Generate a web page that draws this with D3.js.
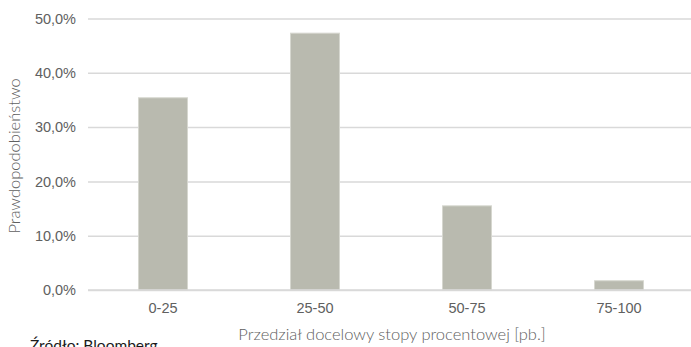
<!DOCTYPE html>
<html><head><meta charset="utf-8">
<script src="https://cdn.jsdelivr.net/npm/d3@7"></script>
<style>
html,body{margin:0;padding:0;background:#fff;}
svg{display:block;font-family:"Lato","Open Sans",sans-serif;}
</style></head>
<body>
<script>
const categories = ["0-25", "25-50", "50-75", "75-100"];
const probabilities = [0.354, 0.473, 0.155, 0.017];
const yTicks = [0, 0.1, 0.2, 0.3, 0.4, 0.5];
const yTitle = "Prawdopodobieństwo";
const xTitle = "Przedział docelowy stopy procentowej [pb.]";
const source = "Źródło: Bloomberg";

const W = 691, H = 347;
const svg = d3.select("body").append("svg").attr("width", W).attr("height", H);

const x = d3.scaleBand().domain(categories).range([87, 695]).paddingInner(0.678).paddingOuter(0.339);
const y = d3.scaleLinear().domain([0, 0.5]).range([290, 18.5]);
const fmt = d => d3.format(".1f")(d * 100).replace(".", ",") + "%";

// gridlines
const yAxis = d3.axisLeft(y).tickValues(yTicks).tickFormat(fmt).tickSize(-(691 - 88)).tickPadding(12);
const gy = svg.append("g").attr("transform", "translate(88,0)").call(yAxis);
gy.select(".domain").remove();
gy.selectAll(".tick line").attr("stroke", "#d9d9d9").attr("stroke-width", 1.5);
gy.selectAll(".tick text").attr("fill", "#606060").attr("font-size", 14.5).attr("font-weight", 300);

// bars
svg.append("g").selectAll("rect").data(categories).join("rect")
  .attr("x", d => x(d))
  .attr("y", (d, i) => y(probabilities[i]))
  .attr("width", x.bandwidth())
  .attr("height", (d, i) => y(0) - y(probabilities[i]))
  .attr("fill", "#b9baaf")
  .attr("stroke", "#d6d7cf").attr("stroke-width", 1);

// x axis
const gx = svg.append("g").attr("transform", "translate(0,290)")
  .call(d3.axisBottom(x).tickSize(0).tickPadding(13));
gx.select(".domain").attr("stroke", "#d9d9d9").attr("stroke-width", 1.5).attr("d", "M88,0H691");
gx.selectAll(".tick text").attr("fill", "#606060").attr("font-size", 14.5).attr("font-weight", 300);

// titles
svg.append("text").attr("x", 392).attr("y", 340).attr("text-anchor", "middle")
  .attr("fill", "#606060").attr("font-size", 16.5).attr("font-weight", 300).text(xTitle);
svg.append("text").attr("transform", "translate(20,156) rotate(-90)").attr("text-anchor", "middle")
  .attr("fill", "#606060").attr("font-size", 16.5).attr("font-weight", 300).text(yTitle);
svg.append("text").attr("x", 30).attr("y", 351)
  .attr("fill", "#1a1a1a").attr("font-size", 15.5).text(source);
</script>
</body></html>
